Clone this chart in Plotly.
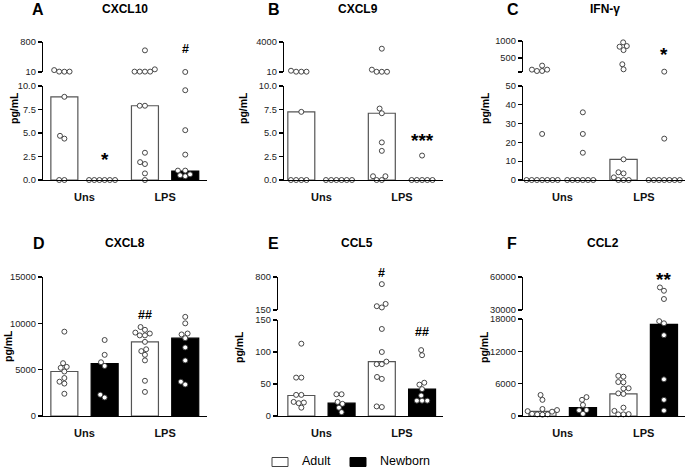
import math
import plotly.graph_objects as go

W, H = 685, 468

# ------------------------------------------------------------------ data
groups = ["Uns", "LPS"]
series_names = ["Adult", "Newborn"]

# A: CXCL10
A_uns_adult = [60, 20, 18, 20, 8.85, 4.7, 4.4, 0, 0]
A_uns_newborn = [0, 0, 0, 0, 0, 0]
A_lps_adult = [20, 20, 20, 20, 80, 580, 7.9, 7.9, 2.9, 1.9, 1.7, 0.7, 0]
A_lps_newborn = [11, 9.55, 5.3, 2.7, 1.0, 1.0, 0.6, 0.4, 0.5]
A_bars = [8.85, 0, 7.9, 0.95]

# B: CXCL9
B_uns_adult = [50, 50, 50, 180, 7.25, 0, 0, 0, 0]
B_uns_newborn = [0, 0, 0, 0, 0, 0]
B_lps_adult = [40, 40, 40, 320, 3110, 7.6, 7.1, 4.0, 3.1, 0.4, 0.4, 0, 0]
B_lps_newborn = [2.6, 0, 0, 0, 0, 0]
B_bars = [7.25, 0, 7.1, 0]

# C: IFN-gamma
C_uns_adult = [150, 110, 270, 110, 150, 24.5, 0, 0, 0, 0, 0, 0, 0]
C_uns_newborn = [36, 24.5, 14.5, 0, 0, 0, 0, 0, 0]
C_lps_adult = [960, 850, 830, 730, 310, 160, 11, 4.1, 3.5, 1.4, 0, 0, 0]
C_lps_newborn = [90, 22, 0, 0, 0, 0, 0, 0, 0]
C_bars = [0, 0, 11, 0]

# D: CXCL8
D_uns_adult = [9100, 5700, 5300, 5200, 4800, 4100, 3700, 3500, 2400]
D_uns_newborn = [8200, 6600, 5800, 5400, 2300, 2000]
D_lps_adult = [9600, 9300, 9000, 8900, 8700, 8700, 8000, 7200, 7000, 6600, 6000, 3800, 2600]
D_lps_newborn = [10700, 10000, 8900, 8800, 8400, 7400, 6000, 3700, 3400]
D_bars = [4800, 5650, 8000, 8400]

# E: CCL5
E_uns_adult = [113, 60, 60, 33, 33, 22, 20, 21, 13]
E_uns_newborn = [34, 34, 22, 19, 13, 6]
E_lps_adult = [660, 270, 225, 200, 136, 100, 85, 81, 81, 61, 58, 15, 14]
E_lps_newborn = [103, 95, 52, 49, 42, 32, 24, 24, 24]
E_bars = [32, 20, 85, 42]

# F: CCL2
F_uns_adult = [3900, 3000, 1300, 1100, 900, 800, 400, 300, 300, 250]
F_uns_newborn = [3500, 3000, 2050, 1100, 1050, 400]
F_lps_adult = [7450, 7300, 6300, 6250, 5150, 5100, 4200, 4100, 1550, 950, 350, 300, 300]
F_lps_newborn = [50500, 47500, 40000, 17600, 17200, 15000, 6800, 3000, 1000]
F_bars = [850, 1550, 4100, 17000]

# ------------------------------------------------------------------ layout config
FONT = "Liberation Sans, Arial, sans-serif"

# significance marks: (group index, value, text, segment, extra pixel shift up)
panels = [
    dict(letter="A", title="CXCL10",
         data=[A_uns_adult, A_uns_newborn, A_lps_adult, A_lps_newborn], bars=A_bars,
         xpx=(43, 207), xr=(-0.53, 3.54),
         upper=dict(px=(42, 72), r=(10, 800), tv=[10, 800], tt=["10", "800"]),
         lower=dict(px=(86, 180), r=(0, 10), tv=[0, 2.5, 5, 7.5, 10],
                    tt=["0.0", "2.5", "5.0", "7.5", "10.0"]),
         lp=(38, 9), tp=(125, 9), yp=(14, 108),
         sig=[(1, 2.6, "*", "lower", 0), (3, 616, "#", "upper", 0)]),
    dict(letter="B", title="CXCL9",
         data=[B_uns_adult, B_uns_newborn, B_lps_adult, B_lps_newborn], bars=B_bars,
         xpx=(284, 443), xr=(-0.43, 3.52),
         upper=dict(px=(42, 72), r=(10, 4000), tv=[10, 4000], tt=["10", "4000"]),
         lower=dict(px=(86, 180), r=(0, 10), tv=[0, 2.5, 5, 7.5, 10],
                    tt=["0.0", "2.5", "5.0", "7.5", "10.0"]),
         lp=(274, 9), tp=(358, 9), yp=(243, 108),
         sig=[(3, 4.6, "***", "lower", 0)]),
    dict(letter="C", title="IFN-γ",
         data=[C_uns_adult, C_uns_newborn, C_lps_adult, C_lps_newborn], bars=C_bars,
         xpx=(523, 685), xr=(-0.47, 3.51),
         upper=dict(px=(41, 72), r=(80, 1000), tv=[80, 500, 1000], tt=["", "500", "1000"]),
         lower=dict(px=(86, 180), r=(0, 50), tv=[0, 10, 20, 30, 40, 50],
                    tt=["0", "10", "20", "30", "40", "50"]),
         lp=(513, 9), tp=(605, 9), yp=(485, 108),
         sig=[(3, 730, "*", "upper", 0)]),
    dict(letter="D", title="CXCL8",
         data=[D_uns_adult, D_uns_newborn, D_lps_adult, D_lps_newborn], bars=D_bars,
         xpx=(43, 207), xr=(-0.53, 3.54),
         upper=None,
         lower=dict(px=(277, 416), r=(0, 15000), tv=[0, 5000, 10000, 15000],
                    tt=["0", "5000", "10000", "15000"]),
         lp=(39, 243), tp=(125, 243), yp=(8, 346),
         sig=[(2, 10900, "##", "lower", 0)]),
    dict(letter="E", title="CCL5",
         data=[E_uns_adult, E_uns_newborn, E_lps_adult, E_lps_newborn], bars=E_bars,
         xpx=(278, 443), xr=(-0.58, 3.52),
         upper=dict(px=(277, 310), r=(150, 800), tv=[150, 800], tt=["150", "800"]),
         lower=dict(px=(320, 416), r=(0, 150), tv=[0, 50, 100, 150],
                    tt=["0", "50", "100", "150"]),
         lp=(273, 243), tp=(357, 243), yp=(239, 347),
         sig=[(2, 790, "#", "upper", 5), (3, 132, "##", "lower", 0)]),
    dict(letter="F", title="CCL2",
         data=[F_uns_adult, F_uns_newborn, F_lps_adult, F_lps_newborn], bars=F_bars,
         xpx=(523, 685), xr=(-0.48, 3.52),
         upper=dict(px=(277, 310), r=(30000, 60000), tv=[30000, 60000], tt=["30000", "60000"]),
         lower=dict(px=(319, 416), r=(0, 18000), tv=[0, 6000, 12000, 18000],
                    tt=["0", "6000", "12000", "18000"]),
         lp=(512, 243), tp=(603, 243), yp=(484, 347),
         sig=[(3, 59500, "**", "upper", 2)]),
]

BAR_W = 0.67
MARK_D = 5.2


def ypix(v, seg):
    (t, b), (r0, r1) = seg["px"], seg["r"]
    return t + (r1 - v) / (r1 - r0) * (b - t)


def swarm(ys):
    n = len(ys)
    xs = [0.0] * n
    placed = []
    for i in sorted(range(n), key=lambda k: -ys[k]):
        y = ys[i]
        iv = []
        for (px, py) in placed:
            dy = abs(py - y)
            if dy < MARK_D:
                dx = math.sqrt(MARK_D ** 2 - dy ** 2)
                iv.append((px - dx, px + dx))
        cands = [0.0] + [a for a, _ in iv] + [b for _, b in iv]
        best = 0.0
        for c in sorted(cands, key=lambda c: (round(abs(c), 6), c)):
            if all(not (a + 1e-6 < c < b - 1e-6) for a, b in iv):
                best = c
                break
        xs[i] = best
        placed.append((best, y))
    return xs


fig = go.Figure()
layout = {}
annotations = []
shapes = []
ax_n = [0]


def new_axes(p, seg, is_lower):
    ax_n[0] += 1
    n = ax_n[0]
    xs = "" if n == 1 else str(n)
    x0, x1 = p["xpx"]
    t, b = seg["px"]
    layout["xaxis" + xs] = dict(
        domain=[x0 / W, x1 / W], range=list(p["xr"]), anchor="y" + xs,
        showgrid=False, zeroline=False, fixedrange=True, automargin=False,
        showline=is_lower, linecolor="black", linewidth=1.3,
        tickvals=[0.5, 2.5] if is_lower else [], ticktext=groups if is_lower else [],
        ticks="outside", ticklen=6, tickcolor="rgba(0,0,0,0)",
        tickfont=dict(family=FONT, size=11, color="#111", weight="bold"),
        visible=True if is_lower else False,
    )
    layout["yaxis" + xs] = dict(
        domain=[1 - b / H, 1 - t / H], range=list(seg["r"]), anchor="x" + xs,
        showgrid=False, zeroline=False, fixedrange=True, automargin=False,
        showline=True, linecolor="black", linewidth=1.3,
        ticks="outside", ticklen=4, tickwidth=1.3, tickcolor="black",
        tickvals=seg["tv"], ticktext=seg["tt"],
        tickfont=dict(family=FONT, size=9.3, color="#222"),
    )
    return "x" + xs, "y" + xs


for p in panels:
    segs = {}
    xa, ya = new_axes(p, p["lower"], True)
    segs["lower"] = (xa, ya)
    if p["upper"] is not None:
        xu, yu = new_axes(p, p["upper"], False)
        segs["upper"] = (xu, yu)
    x0, x1 = p["xpx"]
    ppu = (x1 - x0) / (p["xr"][1] - p["xr"][0])

    # bars
    for si, name in enumerate(series_names):
        fig.add_trace(go.Bar(
            x=[si, si + 2], y=[p["bars"][si], p["bars"][si + 2]], width=BAR_W, name=name,
            showlegend=False, xaxis=xa, yaxis=ya,
            marker=dict(color="white" if si == 0 else "black",
                        line=dict(color="#555" if si == 0 else "black", width=1.2)),
            hoverinfo="skip",
        ))

    # points
    for gi, vals in enumerate(p["data"]):
        for sname in ("lower", "upper"):
            if sname == "upper" and p["upper"] is None:
                continue
            lo_max = p["lower"]["r"][1]
            if sname == "lower":
                sel = [v for v in vals if p["upper"] is None or v <= lo_max]
            else:
                sel = [v for v in vals if v > lo_max]
            if not sel:
                continue
            seg = p[sname]
            offs = swarm([ypix(v, seg) for v in sel])
            xa_, ya_ = segs[sname]
            fig.add_trace(go.Scatter(
                x=[gi + o / ppu for o in offs], y=sel, mode="markers",
                xaxis=xa_, yaxis=ya_, showlegend=False, cliponaxis=False,
                marker=dict(size=5, color="white", symbol="circle",
                            line=dict(color="#333", width=0.9)),
                hoverinfo="skip",
            ))

    # texts
    annotations.append(dict(text="<b>%s</b>" % p["letter"], x=p["lp"][0] / W, y=1 - p["lp"][1] / H,
                            xref="paper", yref="paper", showarrow=False,
                            font=dict(family=FONT, size=16, color="black"),
                            xanchor="center", yanchor="middle"))
    annotations.append(dict(text="<b>%s</b>" % p["title"], x=p["tp"][0] / W, y=1 - p["tp"][1] / H,
                            xref="paper", yref="paper", showarrow=False,
                            font=dict(family=FONT, size=12, color="black"),
                            xanchor="center", yanchor="middle"))
    annotations.append(dict(text="<b>pg/mL</b>", x=p["yp"][0] / W, y=1 - p["yp"][1] / H,
                            xref="paper", yref="paper", showarrow=False, textangle=-90,
                            font=dict(family=FONT, size=10.5, color="black"),
                            xanchor="center", yanchor="middle"))
    for (gx, gy, txt, sname, shift) in p["sig"]:
        xa_, ya_ = segs[sname]
        star = txt.startswith("*")
        annotations.append(dict(text="<b>%s</b>" % txt, x=gx, y=gy, xref=xa_, yref=ya_,
                                showarrow=False,
                                font=dict(family=FONT, size=19 if star else 12.5, color="black"),
                                yshift=(-4 if star else 0) + shift,
                                xanchor="center", yanchor="middle"))

# custom legend
legend_items = [(series_names[0], "white", "#444", 272, 300),
                (series_names[1], "black", "black", 350, 378)]
for name, fill, edge, bx, tx in legend_items:
    shapes.append(dict(type="rect", xref="paper", yref="paper",
                       x0=bx / W, x1=(bx + 16) / W, y0=1 - 466.5 / H, y1=1 - 457.5 / H,
                       fillcolor=fill, line=dict(color=edge, width=1)))
    annotations.append(dict(text=name, x=tx / W, y=1 - 461 / H, xref="paper", yref="paper",
                            showarrow=False, xanchor="left", yanchor="middle",
                            font=dict(family=FONT, size=12.5, color="black")))

layout.update(
    template="none",
    width=W, height=H, margin=dict(l=0, r=0, t=0, b=0, autoexpand=False),
    paper_bgcolor="white", plot_bgcolor="white",
    barmode="overlay", annotations=annotations, shapes=shapes,
    showlegend=False, hovermode=False,
)
fig.update_layout(**layout)
fig.write_html("out.html",
               config={"displayModeBar": False, "staticPlot": True},
               post_script="document.body.style.margin='0px';document.body.style.padding='0px';")
